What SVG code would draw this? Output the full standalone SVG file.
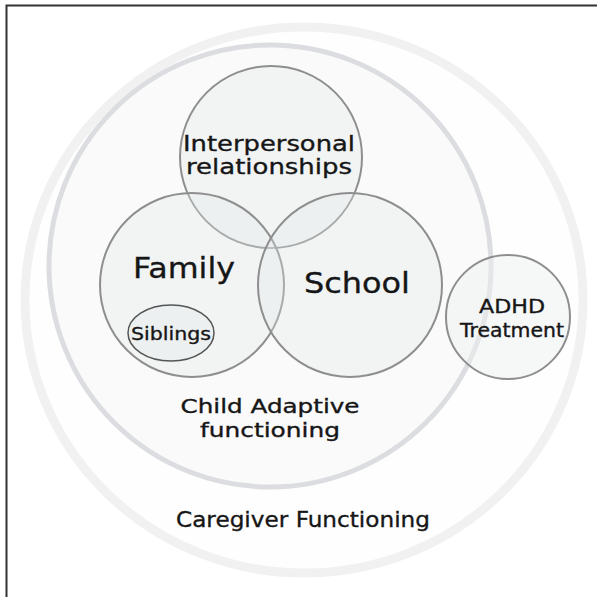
<svg xmlns="http://www.w3.org/2000/svg" width="597" height="597" viewBox="0 0 597 597">
<style>
.lbl{font-family:"DejaVu Sans","Noto Sans","Liberation Sans",sans-serif;fill:#161616;stroke:#161616;stroke-width:0.35;text-anchor:middle}
.venn{fill:#e2e9e9;fill-opacity:0.32;stroke:#8e8e8e;stroke-width:2}
</style>
<rect x="0" y="0" width="597" height="597" fill="#ffffff"/>
<path d="M6.5 597 V5.5 H597" fill="none" stroke="#333" stroke-width="2"/>
<g id="caregiver">
<ellipse cx="304" cy="300" rx="279" ry="273" fill="#fefefe" stroke="#f1f1f2" stroke-width="9"/>
<text class="lbl" x="303" y="527" font-size="22" textLength="254" lengthAdjust="spacingAndGlyphs">Caregiver Functioning</text>
</g>
<g id="child">
<circle cx="270" cy="266" r="221" fill="#fafafa" stroke="#dcdde0" stroke-width="5"/>
<text class="lbl" x="270" y="413" font-size="19" textLength="179" lengthAdjust="spacingAndGlyphs">Child Adaptive</text>
<text class="lbl" x="270" y="437" font-size="19" textLength="140" lengthAdjust="spacingAndGlyphs">functioning</text>
</g>
<g id="interpersonal">
<circle class="venn" cx="271" cy="157" r="91"/>
</g>
<g id="family">
<circle class="venn" cx="192" cy="285" r="92"/>
</g>
<g id="school">
<circle class="venn" cx="350" cy="285" r="92"/>
</g>
<g id="labels">
<text class="lbl" x="269" y="151" font-size="21" textLength="172" lengthAdjust="spacingAndGlyphs">Interpersonal</text>
<text class="lbl" x="269" y="174" font-size="21" textLength="166" lengthAdjust="spacingAndGlyphs">relationships</text>
<text class="lbl" x="184" y="278" font-size="29" textLength="102" lengthAdjust="spacingAndGlyphs">Family</text>
<text class="lbl" x="357" y="293" font-size="29" textLength="106" lengthAdjust="spacingAndGlyphs">School</text>
</g>
<g id="siblings">
<ellipse cx="171" cy="333" rx="43" ry="28" fill="#e6ecec" fill-opacity="0.5" stroke="#555" stroke-width="1.5"/>
<text class="lbl" x="171" y="340" font-size="18" textLength="80" lengthAdjust="spacingAndGlyphs">Siblings</text>
</g>
<g id="adhd">
<circle cx="508" cy="317" r="62" fill="#eef1f1" fill-opacity="0.45" stroke="#8e8e8e" stroke-width="2"/>
<text class="lbl" x="512" y="313" font-size="19" textLength="66" lengthAdjust="spacingAndGlyphs">ADHD</text>
<text class="lbl" x="512" y="337" font-size="19" textLength="104" lengthAdjust="spacingAndGlyphs">Treatment</text>
</g>
<g id="connectors"/>
</svg>
